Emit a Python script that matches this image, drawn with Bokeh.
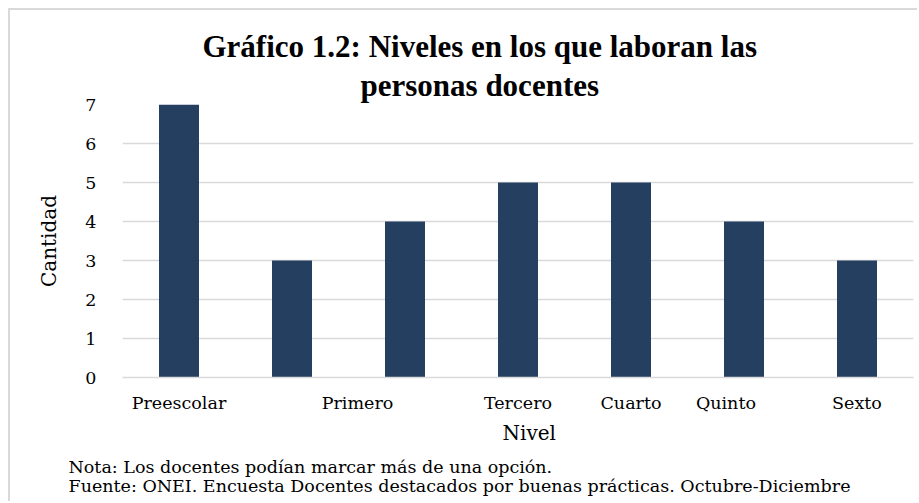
from bokeh.plotting import figure
from bokeh.models import Range1d, FixedTicker, SingleIntervalTicker, Title, ColumnDataSource
from bokeh.embed import file_html
from bokeh.resources import INLINE

# ---- data ----
bar_values = [7, 3, 4, 5, 5, 4, 3]
tick_labels = ["Preescolar", "Primero", "Tercero", "Cuarto", "Quinto", "Sexto"]
title_lines = ["Gráfico 1.2: Niveles en los que laboran las", "personas docentes"]
x_title = "Nivel"
y_title = "Cantidad"
note_lines = ["Nota: Los docentes podían marcar más de una opción.",
              "Fuente: ONEI. Encuesta Docentes destacados por buenas prácticas. Octubre-Diciembre"]

# ---- layout (where each tick label sits along the category axis) ----
label_slots = [1, 2.58, 4, 5, 5.84, 7]

BAR = "#243F60"
GRID = "#d9d9d9"
REG = "DejaVu Serif"
BOLD = "Liberation Serif"

W, H = 909, 493
n = len(bar_values)
slots = list(range(1, n + 1))
src = ColumnDataSource(dict(x=slots, top=bar_values))

p = figure(width=W, height=H, output_backend="svg", toolbar_location=None,
           x_range=Range1d(0.5, n + 0.5), y_range=Range1d(0, 7),
           min_border_left=112, min_border_right=6, min_border_top=94, min_border_bottom=126,
           styles={"margin-left": "8px", "margin-top": "8px",
                   "border-left": "2px solid #d9d9d9", "border-top": "2px solid #d9d9d9"})
p.outline_line_color = None
p.background_fill_color = "white"
p.border_fill_color = "white"

p.vbar(x="x", top="top", width=0.354, source=src, fill_color=BAR, line_color=None)

# y axis
p.yaxis.ticker = SingleIntervalTicker(interval=1)
p.yaxis.axis_line_color = None
p.yaxis.major_tick_line_color = None
p.yaxis.major_tick_out = 0
p.yaxis.major_tick_in = 0
p.yaxis.minor_tick_line_color = None
p.yaxis.major_label_standoff = 22
p.yaxis.major_label_text_font = REG
p.yaxis.major_label_text_font_size = "17.5px"
p.yaxis.major_label_text_color = "black"
p.yaxis.axis_label = y_title
p.yaxis.axis_label_text_font = REG
p.yaxis.axis_label_text_font_size = "20px"
p.yaxis.axis_label_text_font_style = "normal"
p.yaxis.axis_label_text_color = "black"
p.yaxis.axis_label_standoff = 21

# x axis
p.xaxis.ticker = FixedTicker(ticks=label_slots)
p.xaxis.major_label_overrides = {s: t for s, t in zip(label_slots, tick_labels)}
p.xaxis.axis_line_color = GRID
p.xaxis.axis_line_width = 1.5
p.xaxis.major_tick_line_color = None
p.xaxis.major_tick_out = 0
p.xaxis.major_tick_in = 0
p.xaxis.minor_tick_line_color = None
p.xaxis.major_label_standoff = 15
p.xaxis.major_label_text_font = REG
p.xaxis.major_label_text_font_size = "17.5px"
p.xaxis.major_label_text_color = "black"

p.xgrid.grid_line_color = None
p.ygrid.grid_line_color = GRID
p.ygrid.grid_line_width = 1.5

# title: two lines; titles added later sit closer to the frame
p.title.text = title_lines[0]
p.title.align = "left"
p.title.offset = 80
p.title.standoff = 0
p.title.text_font = BOLD
p.title.text_font_style = "bold"
p.title.text_font_size = "31px"
p.title.text_color = "black"
p.add_layout(Title(text=title_lines[1], align="left", offset=238, standoff=4,
                   text_font=BOLD, text_font_style="bold", text_font_size="31px",
                   text_color="black"), "above")

# x axis title and notes below the axis
p.add_layout(Title(text=x_title, align="left", offset=380, standoff=10, vertical_align="top",
                   text_font=REG, text_font_style="normal", text_font_size="20px",
                   text_color="black"), "below")
p.add_layout(Title(text="\n".join(note_lines), align="left", offset=-54, standoff=10,
                   vertical_align="top", text_line_height=0.96,
                   text_font=REG, text_font_style="normal", text_font_size="17.5px",
                   text_color="black"), "below")

open("out.html", "w").write(file_html(p, INLINE))
